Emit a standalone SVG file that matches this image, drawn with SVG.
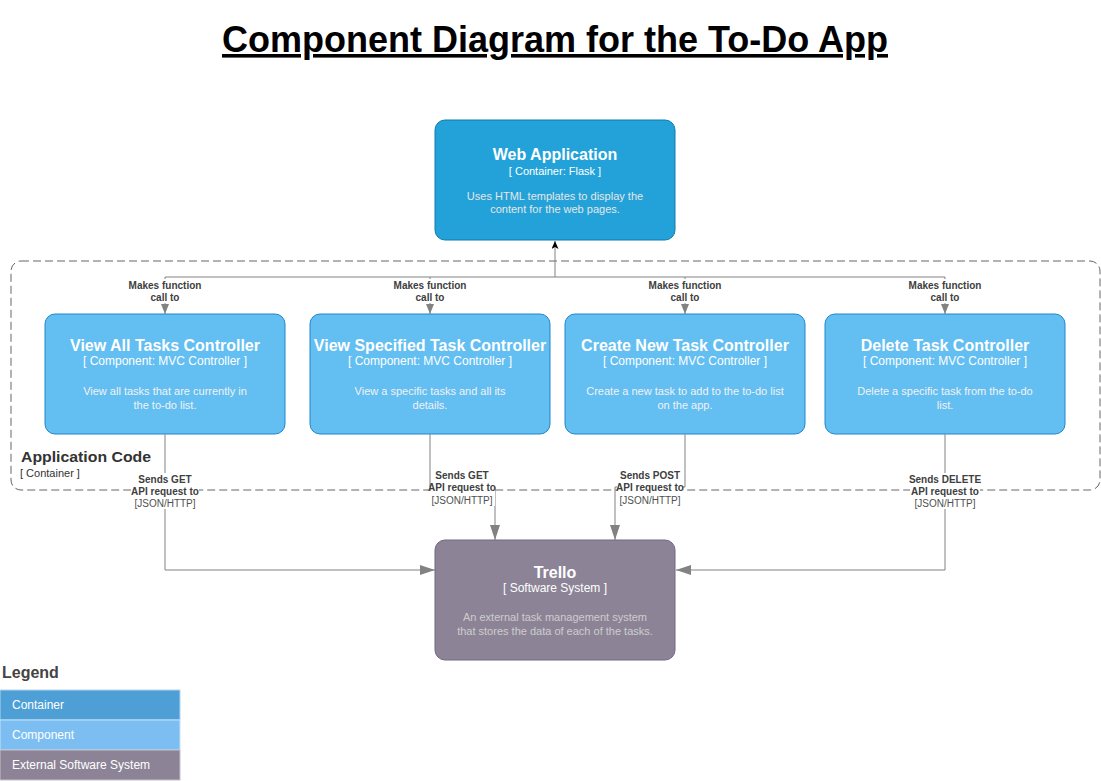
<svg xmlns="http://www.w3.org/2000/svg" width="1101" height="781" viewBox="0 0 1101 781">
<style>
text{font-family:"Liberation Sans",Arial,sans-serif;}
.t{font-size:16px;font-weight:bold;fill:#ffffff;text-anchor:middle;dominant-baseline:central;}
.s{font-size:12px;fill:#ffffff;text-anchor:middle;dominant-baseline:central;}
.s11{font-size:11px;fill:#ffffff;text-anchor:middle;dominant-baseline:central;}
.d{font-size:11px;fill:#f2f2f2;text-anchor:middle;dominant-baseline:central;}
.cont{fill:#23a2d9;stroke:#0e7dad;stroke-width:1;}
.comp{fill:#63bef2;stroke:#2086c9;stroke-width:1;}
.ext{fill:#8c8496;stroke:#736782;stroke-width:1;}
.ln{fill:none;stroke:#828282;stroke-width:1;}
.lb{font-size:10px;font-weight:bold;fill:#404040;text-anchor:middle;dominant-baseline:central;}
.lt{font-size:10px;fill:#505050;text-anchor:middle;dominant-baseline:central;}
.lbg{fill:#ffffff;}
.leg{font-size:12px;fill:#ffffff;dominant-baseline:central;}
</style>
<defs>
<marker id="sm" markerUnits="userSpaceOnUse" markerWidth="10" markerHeight="8" refX="10" refY="4" orient="auto">
<path d="M0,0 L10,4 L0,8 z" fill="#828282"/>
</marker>
<marker id="bg" markerUnits="userSpaceOnUse" markerWidth="15" markerHeight="10" refX="15" refY="5" orient="auto">
<path d="M0,0 L15,5 L0,10 z" fill="#828282"/>
</marker>
<marker id="bk" markerUnits="userSpaceOnUse" markerWidth="9" markerHeight="8" refX="8" refY="3.5" orient="auto">
<path d="M0,0 L8,3.5 L0,7 L2,3.5 z" fill="#000000"/>
</marker>
</defs>

<rect width="1101" height="781" fill="#ffffff"/>

<g id="title">
<text x="555" y="52" text-anchor="middle" font-size="36" font-weight="bold" fill="#000000" text-decoration="underline" textLength="666" lengthAdjust="spacingAndGlyphs">Component Diagram for the To-Do App</text>
</g>

<g id="application-code">
<rect x="11" y="261" width="1089" height="229" rx="10" ry="10" fill="none" stroke="#666666" stroke-width="1" stroke-dasharray="8 4"/>
<text x="21" y="456" font-size="15" font-weight="bold" fill="#333333" dominant-baseline="central" textLength="130" lengthAdjust="spacingAndGlyphs">Application Code</text>
<text x="20" y="473" font-size="11" fill="#333333" dominant-baseline="central">[ Container ]</text>
</g>

<g id="web-application">
<rect class="cont" x="435" y="120" width="240" height="120" rx="10" ry="10"/>
<text class="t" x="555" y="154">Web Application</text>
<text class="s11" x="555" y="171">[ Container: Flask ]</text>
<text class="d" x="555" y="196" style="fill:#e6e6e6">Uses HTML templates to display the</text>
<text class="d" x="555" y="209" style="fill:#e6e6e6">content for the web pages.</text>
</g>

<g id="view-all-tasks-controller">
<rect class="comp" x="45" y="314" width="240" height="120" rx="10" ry="10"/>
<text class="t" x="165" y="345">View All Tasks Controller</text>
<text class="s" x="165" y="361">[ Component: MVC Controller ]</text>
<text class="d" x="165" y="391">View all tasks that are currently in</text>
<text class="d" x="165" y="405">the to-do list.</text>
</g>

<g id="view-specified-task-controller">
<rect class="comp" x="310" y="314" width="240" height="120" rx="10" ry="10"/>
<text class="t" x="430" y="345">View Specified Task Controller</text>
<text class="s" x="430" y="361">[ Component: MVC Controller ]</text>
<text class="d" x="430" y="391">View a specific tasks and all its</text>
<text class="d" x="430" y="405">details.</text>
</g>

<g id="create-new-task-controller">
<rect class="comp" x="565" y="314" width="240" height="120" rx="10" ry="10"/>
<text class="t" x="685" y="345">Create New Task Controller</text>
<text class="s" x="685" y="361">[ Component: MVC Controller ]</text>
<text class="d" x="685" y="391">Create a new task to add to the to-do list</text>
<text class="d" x="685" y="405">on the app.</text>
</g>

<g id="delete-task-controller">
<rect class="comp" x="825" y="314" width="240" height="120" rx="10" ry="10"/>
<text class="t" x="945" y="345">Delete Task Controller</text>
<text class="s" x="945" y="361">[ Component: MVC Controller ]</text>
<text class="d" x="945" y="391">Delete a specific task from the to-do</text>
<text class="d" x="945" y="405">list.</text>
</g>

<g id="trello">
<rect class="ext" x="435" y="540" width="240" height="120" rx="10" ry="10"/>
<text class="t" x="555" y="572">Trello</text>
<text class="s" x="555" y="588">[ Software System ]</text>
<text class="d" x="555" y="617" style="fill:#cccccc">An external task management system</text>
<text class="d" x="555" y="631" style="fill:#cccccc">that stores the data of each of the tasks.</text>
</g>

<g id="connectors">
<path class="ln" d="M555,277 V241" marker-end="url(#bk)"/>
<path class="ln" d="M165,277 H945"/>
<path class="ln" d="M165,277 V314" marker-end="url(#sm)"/>
<path class="ln" d="M430,277 V314" marker-end="url(#sm)"/>
<path class="ln" d="M685,277 V314" marker-end="url(#sm)"/>
<path class="ln" d="M945,277 V314" marker-end="url(#sm)"/>
<path class="ln" d="M165,434 V570 H435" marker-end="url(#bg)"/>
<path class="ln" d="M430,434 V487 H495 V540" marker-end="url(#bg)"/>
<path class="ln" d="M685,434 V487 H615 V540" marker-end="url(#bg)"/>
<path class="ln" d="M945,434 V570 H676" marker-end="url(#bg)"/>

<rect class="lbg" x="129" y="279" width="73" height="24"/>
<text class="lb" x="165" y="285">Makes function</text>
<text class="lb" x="165" y="297">call to</text>
<rect class="lbg" x="394" y="279" width="73" height="24"/>
<text class="lb" x="430" y="285">Makes function</text>
<text class="lb" x="430" y="297">call to</text>
<rect class="lbg" x="649" y="279" width="73" height="24"/>
<text class="lb" x="685" y="285">Makes function</text>
<text class="lb" x="685" y="297">call to</text>
<rect class="lbg" x="909" y="279" width="73" height="24"/>
<text class="lb" x="945" y="285">Makes function</text>
<text class="lb" x="945" y="297">call to</text>

<rect class="lbg" x="131" y="473" width="68" height="36"/>
<text class="lb" x="165" y="479">Sends GET</text>
<text class="lb" x="165" y="491">API request to</text>
<text class="lt" x="165" y="503">[JSON/HTTP]</text>

<rect class="lbg" x="431" y="469" width="64" height="37"/>
<text class="lb" x="462" y="475">Sends GET</text>
<text class="lb" x="462" y="487.5">API request to</text>
<text class="lt" x="462" y="500">[JSON/HTTP]</text>

<rect class="lbg" x="617" y="469" width="66" height="37"/>
<text class="lb" x="650" y="475">Sends POST</text>
<text class="lb" x="650" y="487.5">API request to</text>
<text class="lt" x="650" y="500">[JSON/HTTP]</text>

<rect class="lbg" x="910" y="473" width="70" height="36"/>
<text class="lb" x="945" y="479">Sends DELETE</text>
<text class="lb" x="945" y="491">API request to</text>
<text class="lt" x="945" y="503">[JSON/HTTP]</text>
</g>

<g id="legend">
<text x="2" y="672" font-size="16" font-weight="bold" fill="#444444" dominant-baseline="central">Legend</text>
<rect x="0" y="690" width="180" height="30" fill="#4d9fd6" stroke="#b3d4ee" stroke-width="1"/>
<text class="leg" x="12" y="705">Container</text>
<rect x="0" y="720" width="180" height="30" fill="#7dbef2" stroke="#c6e2f8" stroke-width="1"/>
<text class="leg" x="12" y="735">Component</text>
<rect x="0" y="750" width="180" height="30" fill="#8c8496" stroke="#c4c0ca" stroke-width="1"/>
<text class="leg" x="12" y="765">External Software System</text>
</g>
</svg>
